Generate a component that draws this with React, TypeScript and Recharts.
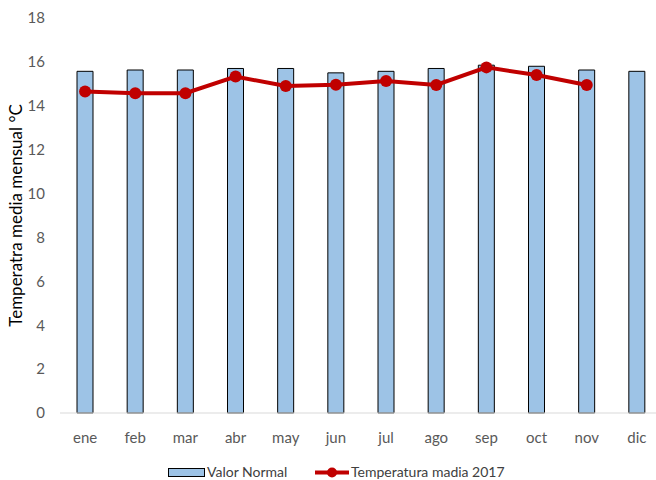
import { ComposedChart, Bar, Line, XAxis, YAxis } from "recharts";

const MONTHS = ["ene", "feb", "mar", "abr", "may", "jun", "jul", "ago", "sep", "oct", "nov", "dic"];
const VALOR_NORMAL = [15.57, 15.63, 15.63, 15.7, 15.7, 15.5, 15.57, 15.7, 15.85, 15.8, 15.63, 15.57];
const TEMP_2017: (number | null)[] = [14.65, 14.57, 14.57, 15.33, 14.9, 14.96, 15.13, 14.95, 15.75, 15.4, 14.95, null];
const Y_TICKS = [0, 2, 4, 6, 8, 10, 12, 14, 16, 18];

const FONT = "Lato, 'Open Sans', sans-serif";
const TICK_COLOR = "#595959";
const BAR_FILL = "#9DC3E6";
const LINE_RED = "#C00000";

const data = MONTHS.map((m, i) => ({
  month: m,
  normal: VALOR_NORMAL[i],
  temp: TEMP_2017[i],
}));

const legendText = {
  position: "absolute" as const,
  top: 0,
  height: 16,
  lineHeight: "16px",
  fontSize: 14,
  color: "#404040",
  fontFamily: FONT,
  whiteSpace: "nowrap" as const,
};

// legend drawn by hand, Excel style
function ChartLegend() {
  return (
    <div style={{ position: "absolute", left: 0, top: 464, width: 656, height: 16 }}>
      <svg width={40} height={16} style={{ position: "absolute", left: 167, top: 0 }}>
        <rect x={1.5} y={4.5} width={36} height={8} fill={BAR_FILL} stroke="#000" strokeWidth={1} />
      </svg>
      <span style={{ ...legendText, left: 207 }}>Valor Normal</span>
      <svg width={36} height={16} style={{ position: "absolute", left: 314, top: 0 }}>
        <line x1={1} x2={35} y1={8.5} y2={8.5} stroke={LINE_RED} strokeWidth={4} />
        <circle cx={18} cy={8.5} r={5} fill={LINE_RED} />
      </svg>
      <span style={{ ...legendText, left: 351 }}>Temperatura madia 2017</span>
    </div>
  );
}

export default function App() {
  return (
    <div style={{ position: "absolute", left: 0, top: 0, width: 656, height: 480, overflow: "hidden", background: "#fff" }}>
      <ComposedChart
        width={668}
        height={480}
        data={data}
        margin={{ top: 18, right: 6, left: 0, bottom: 37 }}
        barCategoryGap={0}
      >
        <XAxis
          dataKey="month"
          axisLine={{ stroke: "#D9D9D9" }}
          tickLine={false}
          tickSize={0}
          tickMargin={19}
          height={30}
          tick={{ fontSize: 15, fill: TICK_COLOR, fontFamily: FONT }}
        />
        <YAxis
          width={60}
          domain={[0, 18]}
          ticks={Y_TICKS}
          axisLine={false}
          tickLine={false}
          tickSize={0}
          tickMargin={15}
          tick={{ fontSize: 15, fill: TICK_COLOR, fontFamily: FONT }}
          label={{
            value: "Temperatra media mensual °C",
            angle: -90,
            position: "center",
            dx: -14,
            fontSize: 17,
            fill: "#000",
            fontFamily: FONT,
          }}
        />
        <Bar dataKey="normal" barSize={16} fill={BAR_FILL} stroke="#000" strokeWidth={1} isAnimationActive={false} />
        <Line
          dataKey="temp"
          stroke={LINE_RED}
          strokeWidth={4}
          dot={{ r: 6, fill: LINE_RED, stroke: LINE_RED, strokeWidth: 0 }}
          activeDot={false}
          connectNulls={false}
          isAnimationActive={false}
        />
      </ComposedChart>
      <ChartLegend />
    </div>
  );
}
